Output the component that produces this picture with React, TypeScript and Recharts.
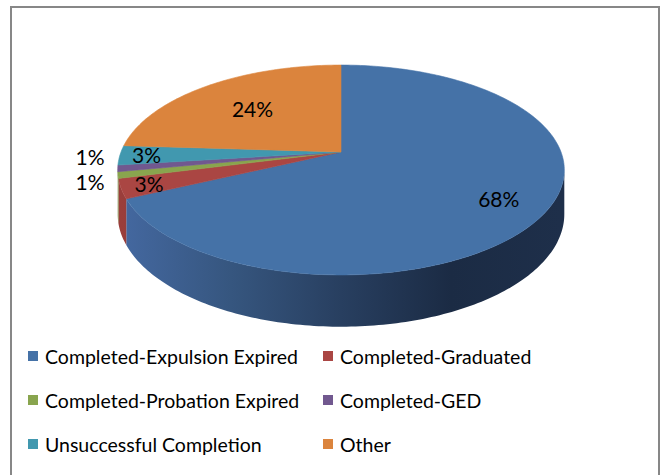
import React from "react";
import { PieChart, Pie, Cell, Legend } from "recharts";

const CATEGORIES = [
  "Completed-Expulsion Expired",
  "Completed-Graduated",
  "Completed-Probation Expired",
  "Completed-GED",
  "Unsuccessful Completion",
  "Other",
];
const SHARES = [68, 3, 1, 1, 3, 24];

const COLORS = ["#4572A7", "#AA4643", "#89A54E", "#71588F", "#4198AF", "#DB843D"];
// side wall gradient (left -> right) for each slice
const WALL_COLORS = [
  ["#4468a0", "#36567f", "#283f60", "#1b2b44", "#1e2f4a"],
  ["#9a3e3b", "#80332f", "#662825", "#4f1f1d", "#52201e"],
  ["#7a9446", "#657a3a", "#50612e", "#3d4a23", "#3f4c24"],
  ["#644e80", "#52406a", "#413354", "#312740", "#332842"],
  ["#3a889c", "#307081", "#265966", "#1d444e", "#1e4650"],
  ["#c47637", "#a2612d", "#814d24", "#623b1b", "#653c1c"],
];

const data = CATEGORIES.map((name, i) => ({ name, value: SHARES[i] }));

// tilted disc seen in perspective
const CX = 336;
const CY = 147;
const R = 220;
const SQUASH = 0.463;
const PERSP = 0.1715;
const DEPTH = 0.195;
const FONT = "Lato, 'Open Sans', sans-serif";

function project(cx: number, cy: number, r: number, deg: number, frac: number) {
  const a = (deg * Math.PI) / 180;
  const X = frac * Math.cos(a);
  const Z = frac * Math.sin(a);
  const w = 1 + PERSP * Z;
  return { x: cx + (r * X) / w, y: cy - (r * SQUASH * Z) / w, w };
}

function Slice3D(props: any) {
  const { cx, cy, outerRadius, startAngle, endAngle, fill } = props;
  const name = props.name ?? props.payload?.name;
  const idx = Math.max(0, CATEGORIES.indexOf(name));
  const lo = Math.min(startAngle, endAngle);
  const hi = Math.max(startAngle, endAngle);
  const n = Math.max(2, Math.ceil(hi - lo));

  let top = `M${cx},${cy}`;
  for (let i = 0; i <= n; i++) {
    const p = project(cx, cy, outerRadius, lo + ((hi - lo) * i) / n, 1);
    top += `L${p.x},${p.y}`;
  }
  top += "Z";

  // only the front part of the rim shows its wall
  const edge = (Math.asin(PERSP) * 180) / Math.PI;
  const fLo = -180 + edge;
  const fHi = -edge;
  const walls: string[] = [];
  for (const shift of [-360, 0, 360]) {
    const s = Math.max(lo + shift, fLo);
    const e = Math.min(hi + shift, fHi);
    if (e <= s) continue;
    const m = Math.max(2, Math.ceil(e - s));
    let d = "";
    const bottom: string[] = [];
    for (let i = 0; i <= m; i++) {
      const p = project(cx, cy, outerRadius, s + ((e - s) * i) / m, 1);
      d += `${i === 0 ? "M" : "L"}${p.x},${p.y}`;
      bottom.unshift(`L${p.x},${p.y + (outerRadius * DEPTH) / p.w}`);
    }
    walls.push(d + bottom.join("") + "Z");
  }

  const gid = `wall-${idx}`;
  return (
    <g>
      <defs>
        <linearGradient id={gid} gradientUnits="userSpaceOnUse" x1={cx - outerRadius} y1={0} x2={cx + outerRadius} y2={0}>
          {WALL_COLORS[idx].map((c, i) => (
            <stop key={i} offset={`${(i / (WALL_COLORS[idx].length - 1)) * 100}%`} stopColor={c} />
          ))}
        </linearGradient>
      </defs>
      {walls.map((d, i) => (
        <path key={i} d={d} fill={`url(#${gid})`} stroke="none" />
      ))}
      <path d={top} fill={fill} stroke={fill} strokeWidth={0.6} />
    </g>
  );
}

// small slices get their labels outside; spread them so they do not collide
const TOTAL = SHARES.reduce((s, v) => s + v, 0);
const LABEL_SIZE = 21;
const MIN_GAP = 25;
const outsideY: Record<number, number> = {};
(() => {
  let cum = 0;
  const items: { i: number; y: number }[] = [];
  SHARES.forEach((v, i) => {
    const mid = 90 - (360 * (cum + v / 2)) / TOTAL;
    cum += v;
    if (v / TOTAL < 0.02) items.push({ i, y: project(CX, CY, R, mid, 1.12).y });
  });
  items.sort((a, b) => a.y - b.y);
  for (let k = 1; k < items.length; k++) {
    const gap = items[k].y - items[k - 1].y;
    if (gap < MIN_GAP) {
      items[k - 1].y -= (MIN_GAP - gap) / 2;
      items[k].y += (MIN_GAP - gap) / 2;
    }
  }
  items.forEach((it) => (outsideY[it.i] = it.y));
})();

function renderLabel(props: any) {
  const { cx, cy, outerRadius, midAngle, percent, index } = props;
  let frac = 0.55 + 0.35 * percent;
  if (percent < 0.02) frac = 1.12;
  else if (percent < 0.1) frac = 0.88;
  const p = project(cx, cy, outerRadius, midAngle, frac);
  const y = percent < 0.02 && outsideY[index] !== undefined ? outsideY[index] : p.y;
  return (
    <text x={p.x} y={y} textAnchor="middle" dominantBaseline="central" fontFamily={FONT} fontSize={LABEL_SIZE} fill="#000">
      {`${Math.round(percent * 100)}%`}
    </text>
  );
}

function LegendGrid({ payload }: any) {
  const items = (payload && payload.length ? [...payload] : CATEGORIES.map((value) => ({ value }))) as any[];
  items.sort((a, b) => CATEGORIES.indexOf(a.value) - CATEGORIES.indexOf(b.value));
  return (
    <div
      style={{
        display: "grid",
        gridTemplateColumns: "295px 300px",
        gridAutoRows: "44px",
        paddingLeft: 28,
        fontFamily: FONT,
        fontSize: 19.5,
        color: "#000",
      }}
    >
      {items.map((entry) => {
        const i = CATEGORIES.indexOf(entry.value);
        return (
          <div key={entry.value} style={{ display: "flex", alignItems: "center", whiteSpace: "nowrap" }}>
            <span style={{ width: 10, height: 10, background: COLORS[i], marginRight: 7, flex: "none" }} />
            <span>{entry.value}</span>
          </div>
        );
      })}
    </div>
  );
}

export default function App() {
  return (
    <div style={{ position: "fixed", left: 0, top: 0, width: 664, height: 475, background: "#fff", overflow: "hidden" }}>
      <div
        style={{
          position: "absolute",
          left: 10,
          top: 6,
          width: 646,
          height: 520,
          border: "2px solid #878787",
        }}
      />
      <PieChart width={664} height={475} style={{ position: "absolute", left: 0, top: 0 }}>
        <Pie
          data={data}
          dataKey="value"
          nameKey="name"
          cx={CX}
          cy={CY}
          outerRadius={R}
          startAngle={90}
          endAngle={-270}
          stroke="none"
          shape={Slice3D}
          inactiveShape={Slice3D}
          activeShape={Slice3D}
          label={renderLabel}
          labelLine={false}
          isAnimationActive={false}
        >
          {data.map((d, i) => (
            <Cell key={d.name} fill={COLORS[i]} />
          ))}
        </Pie>
        <Legend content={<LegendGrid />} wrapperStyle={{ position: "absolute", left: 0, top: 334, width: 664 }} />
      </PieChart>
    </div>
  );
}
